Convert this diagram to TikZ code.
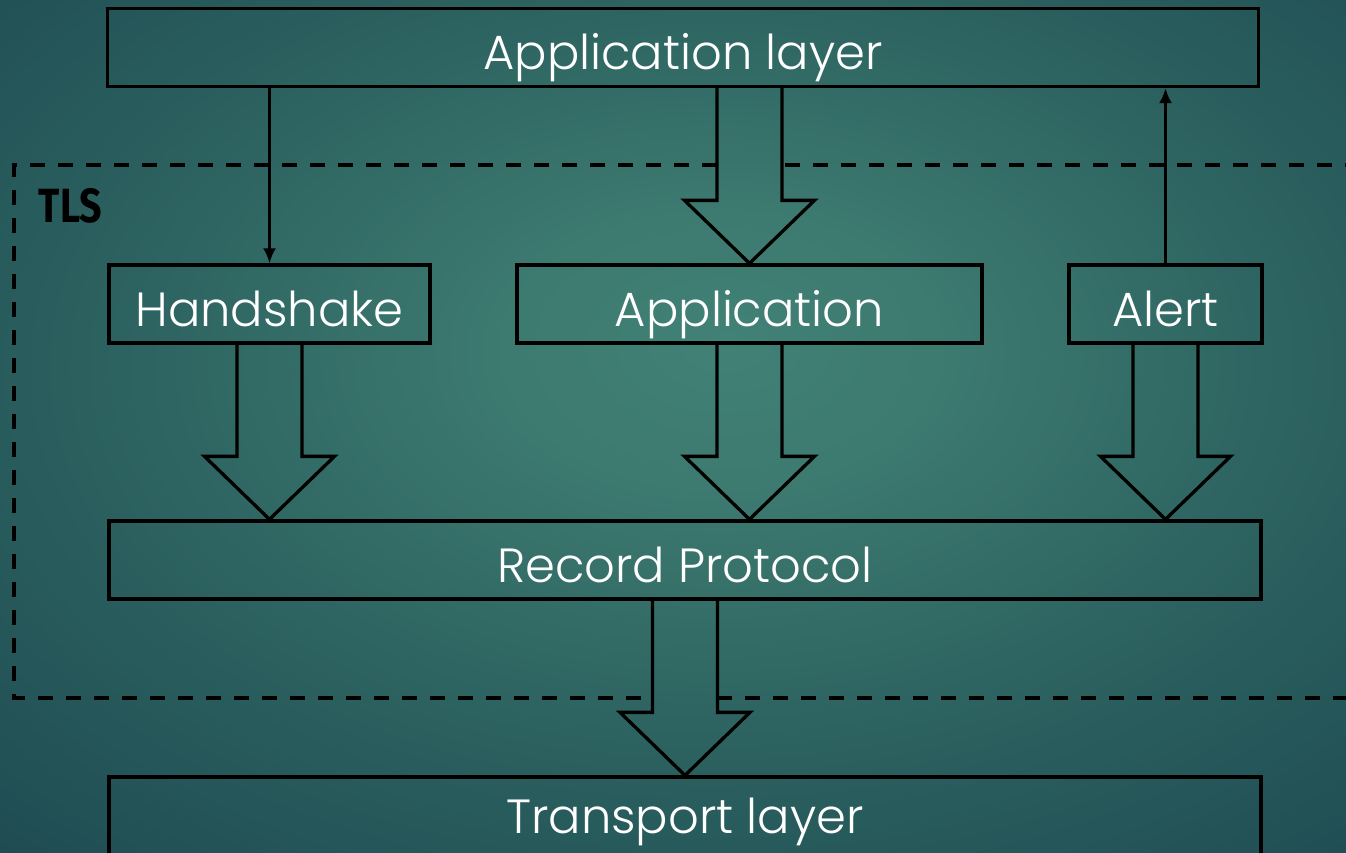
\documentclass[tikz,border=0pt]{standalone}
\usepackage{fontspec}
\setmainfont{Poppins}[UprightFont=* Light, BoldFont=* SemiBold]
\newfontfamily\tlsfont{Fira Sans}
\usetikzlibrary{arrows.meta,calc}

\definecolor{bgin}{HTML}{418176}
\definecolor{bgc}{HTML}{3D7A70}
\definecolor{bgmid}{HTML}{2C6260}
\definecolor{bgedge}{HTML}{1D4951}
\definecolor{bgout}{HTML}{153A45}
\pgfdeclareradialshading{bgshade}{\pgfpoint{2bp}{5bp}}{%
  color(0bp)=(bgin); color(8bp)=(bgc); color(22bp)=(bgmid);
  color(40bp)=(bgedge); color(78bp)=(bgout)}

\tikzset{
  layerbox/.style={draw=black, line width=3.3pt, rectangle, minimum height=78pt,
    inner sep=0pt, text height=61pt, text depth=17pt, text=white,
    font=\fontsize{48}{56}\selectfont},
  thinarrow/.style={draw=black, line width=2.8pt, -{Latex[length=15pt,width=13pt]}},
  blockline/.style={draw=black, line width=3.3pt, line join=miter},
  tlsbox/.style={draw=black, line width=3.5pt, dash pattern=on 15pt off 13pt}
}

% hollow block arrow from the top point #1 down to the tip #2
\newcommand\blockarrow[2]{%
  \draw[blockline] let \p1=#1, \p2=#2 in
    (\x2-32.5pt,\y1) -- (\x2-32.5pt,\y2+63pt) -- (\x2-65pt,\y2+63pt) -- (\x2,\y2)
    -- (\x2+65pt,\y2+63pt) -- (\x2+32.5pt,\y2+63pt) -- (\x2+32.5pt,\y1);}

\begin{document}
\begin{tikzpicture}[x=1pt,y=-1pt]
  \useasboundingbox (0,0) rectangle (1346,852);
  \shade[shading=bgshade] (0,0) rectangle (1346,852);

  % dashed TLS frame, interrupted where the block arrows pass
  \draw[tlsbox] (1360,165) -- (782,165);
  \draw[tlsbox] (717,165) -- (14,165) -- (14,698) -- (653,698);
  \draw[tlsbox] (717,698) -- (1360,698);
  \node[anchor=center, text=black, inner sep=0pt, font=\tlsfont\bfseries\fontsize{48}{54}\selectfont]
    (tls) at (70.5,206) {\scalebox{0.82}[1]{TLS}};

  % layers and protocols
  \node[layerbox, minimum width=1151pt] (app) at (683,47.5) {Application layer};
  \node[layerbox, minimum width=321pt]  (hs)  at (269.5,304) {Handshake};
  \node[layerbox, minimum width=465pt]  (apl) at (749.5,304) {Application};
  \node[layerbox, minimum width=193pt]  (al)  at (1165.5,304) {Alert};
  \node[layerbox, minimum width=1152pt] (rec) at (685,560) {Record Protocol};
  \node[layerbox, minimum width=1152pt, text height=56pt, text depth=22pt]
    (tr) at (685,816) {Transport layer};

  % control flow
  \draw[thinarrow] (app.south -| hs.north) -- (hs.north);
  \draw[thinarrow] (al.north) -- (al.north |- app.south);

  % data flow
  \blockarrow{(app.south -| apl.north)}{(apl.north)}
  \blockarrow{(hs.south)}{(rec.north -| hs.south)}
  \blockarrow{(apl.south)}{(rec.north -| apl.south)}
  \blockarrow{(al.south)}{(rec.north -| al.south)}
  \blockarrow{(rec.south)}{(tr.north)}
\end{tikzpicture}
\end{document}
